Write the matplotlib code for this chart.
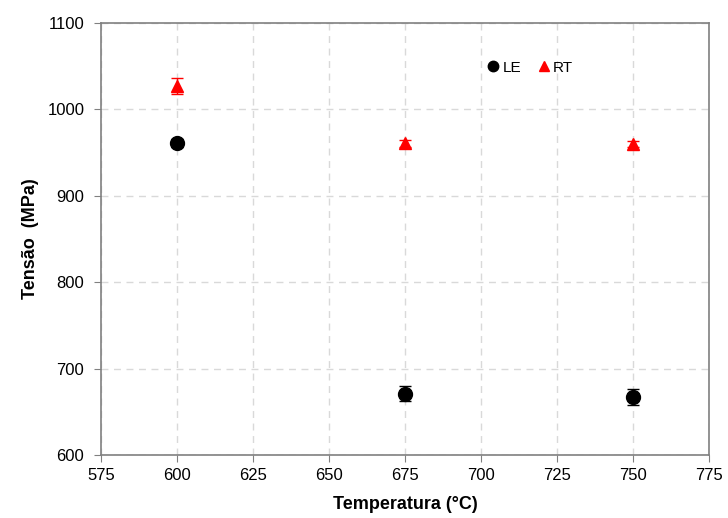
import matplotlib
matplotlib.use('Agg')
import matplotlib.pyplot as plt

# temperatura (C) e tensao (MPa)
temps = [600, 675, 750]
le_vals = [961, 671, 667]
le_err = [5, 9, 9]
rt_vals = [1027, 961, 960]
rt_err = [9, 4, 4]

xticks = [575, 600, 625, 650, 675, 700, 725, 750, 775]
yticks = [600, 700, 800, 900, 1000, 1100]

plt.rcParams['font.family'] = ['Liberation Sans', 'DejaVu Sans']

fig = plt.figure(figsize=(7.28, 5.18), dpi=100)
ax = fig.add_axes([101 / 728, 1 - 455 / 518, 608 / 728, 432 / 518])

ax.errorbar(temps, le_vals, yerr=le_err, fmt='none', ecolor='black',
            elinewidth=1, capsize=4, zorder=3)
ax.errorbar(temps, rt_vals, yerr=rt_err, fmt='none', ecolor='red',
            elinewidth=1, capsize=4, zorder=3)
ax.plot(temps, le_vals, 'o', color='black', ms=10, label='LE', zorder=4)
ax.plot(temps, rt_vals, '^', color='red', ms=9, label='RT', zorder=4)

ax.set_xlim(575, 775)
ax.set_ylim(600, 1100)
ax.set_xticks(xticks)
ax.set_yticks(yticks)
ax.tick_params(labelsize=12, direction='out', length=5, color='#808080')
ax.tick_params(axis='y', pad=7)
ax.tick_params(axis='x', pad=4)
ax.grid(True, linestyle=(0, (5, 4)), color='#d9d9d9', linewidth=1)
ax.set_axisbelow(True)
for s in ax.spines.values():
    s.set_color('#808080')
    s.set_linewidth(1.2)

ax.set_xlabel('Temperatura (°C)', fontsize=13, fontweight='bold', labelpad=10)
ax.set_ylabel('Tensão  (MPa)', fontsize=13, fontweight='bold', labelpad=6)

leg = ax.legend(loc='upper left', bbox_to_anchor=(0.61, 0.945), ncol=2, frameon=False,
                fontsize=11, handletextpad=0.1, columnspacing=1.0, markerscale=0.75,
                handlelength=1.0)

fig.savefig('out.png', dpi=100)
